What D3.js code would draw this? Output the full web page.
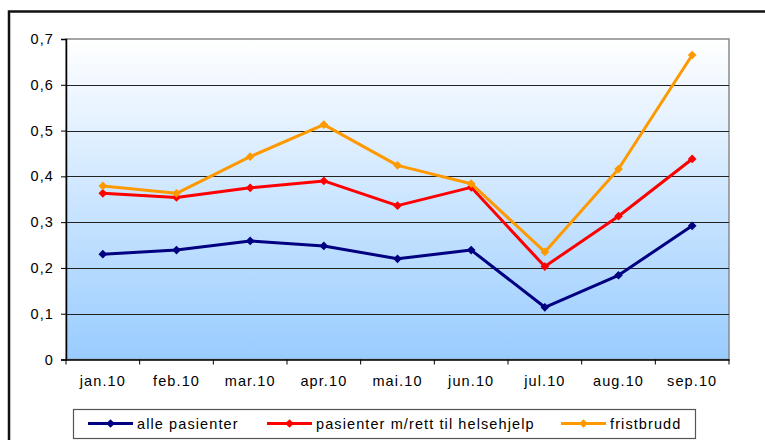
<!DOCTYPE html>
<html><head><meta charset="utf-8">
<script src="https://cdn.jsdelivr.net/npm/d3@7"></script>
<style>body{margin:0;background:#fff}svg{display:block}text{font-family:"Liberation Sans",Arial,sans-serif}</style>
</head><body>
<svg id="c" width="765" height="440"></svg>
<script>
const categories = ["jan.10","feb.10","mar.10","apr.10","mai.10","jun.10","jul.10","aug.10","sep.10"];
const allePasienter = [0.230,0.239,0.259,0.248,0.220,0.239,0.114,0.184,0.292];
const pasienterRett = [0.363,0.354,0.375,0.390,0.336,0.376,0.203,0.313,0.438];
const fristbrudd = [0.379,0.363,0.443,0.513,0.424,0.384,0.235,0.416,0.665];
const seriesNames = ["alle pasienter","pasienter m/rett til helsehjelp","fristbrudd"];
const seriesColors = ["#000080","#FF0000","#FF9900"];
const yTicks = [0,0.1,0.2,0.3,0.4,0.5,0.6,0.7];

const FS = 14.5, LS = 1.1;
const svg = d3.select("#c");
const L=66, R=729, T=39, B=359.5;
const x = d3.scaleBand().domain(categories).range([L,R]);
const y = d3.scaleLinear().domain([0,0.7]).range([B,T]);

// outer border
svg.append("rect").attr("x",9).attr("y",11.5).attr("width",780).attr("height",450)
  .attr("fill","none").attr("stroke","#111").attr("stroke-width",2.5);

const defs = svg.append("defs");
const g = defs.append("linearGradient").attr("id","bg").attr("x1",0).attr("y1",0).attr("x2",0).attr("y2",1);
g.append("stop").attr("offset","0%").attr("stop-color","#FFFFFF");
g.append("stop").attr("offset","100%").attr("stop-color","#99CCFF");

svg.append("rect").attr("x",L).attr("y",T).attr("width",R-L).attr("height",B-T)
  .attr("fill","url(#bg)").attr("stroke","#888").attr("stroke-width",1.5);

// gridlines
svg.append("g").selectAll("line").data(yTicks.filter(d=>d>0&&d<0.7)).join("line")
  .attr("x1",L).attr("x2",R).attr("y1",d=>Math.round(y(d))+0.5).attr("y2",d=>Math.round(y(d))+0.5)
  .attr("stroke","#222").attr("stroke-width",1);

// y axis
const ya = svg.append("g").attr("transform",`translate(${L},0)`)
  .call(d3.axisLeft(y).tickValues(yTicks).tickSize(5).tickPadding(7).tickFormat(d=>d3.format(".1f")(d).replace(".",",").replace(/^0,0$/,"0")));
ya.select(".domain").attr("stroke","#000").attr("stroke-width",1.5);
ya.selectAll("text").attr("font-size",FS).attr("letter-spacing",LS).attr("fill","#000");
ya.selectAll(".tick line").attr("stroke","#000");

// x axis
const xa = svg.append("g").attr("transform",`translate(0,${B})`)
  .call(d3.axisBottom(x).tickSize(0).tickPadding(16));
xa.select(".domain").attr("stroke","#000").attr("stroke-width",1.5);
xa.selectAll("text").attr("font-size",FS).attr("letter-spacing",LS).attr("fill","#000");
const bounds = categories.map(c=>x(c)).concat([R]);
svg.append("g").selectAll("line").data(bounds).join("line")
  .attr("x1",d=>d).attr("x2",d=>d).attr("y1",B).attr("y2",B+5).attr("stroke","#000");

const data = [allePasienter, pasienterRett, fristbrudd];
const line = d3.line().x((d,i)=>x(categories[i])+x.bandwidth()/2).y(d=>y(d));
const diamond = d3.symbol().type(d3.symbolSquare).size(38);
[0,1,2].forEach(s=>{
  svg.append("path").attr("d",line(data[s])).attr("fill","none")
    .attr("stroke",seriesColors[s]).attr("stroke-width",3).attr("stroke-linejoin","round");
  svg.append("g").selectAll("path").data(data[s]).join("path")
    .attr("d",diamond).attr("fill",seriesColors[s])
    .attr("transform",(d,i)=>`translate(${x(categories[i])+x.bandwidth()/2},${y(d)}) rotate(45)`);
});

// legend
svg.append("rect").attr("x",73.5).attr("y",409.5).attr("width",622).attr("height",29)
  .attr("fill","#fff").attr("stroke","#555").attr("stroke-width",1.2);
const legX = [88,267,561];
const lg = svg.append("g").selectAll("g").data(seriesNames).join("g")
  .attr("transform",(d,i)=>`translate(${legX[i]},423.5)`);
lg.append("line").attr("x1",0).attr("x2",45).attr("stroke",(d,i)=>seriesColors[i]).attr("stroke-width",3);
lg.append("path").attr("d",diamond).attr("transform","translate(22.5,0) rotate(45)").attr("fill",(d,i)=>seriesColors[i]);
lg.append("text").attr("x",49).attr("dy","0.35em").attr("font-size",FS).attr("letter-spacing",LS).attr("fill","#000").text(d=>d);
</script>
</body></html>
